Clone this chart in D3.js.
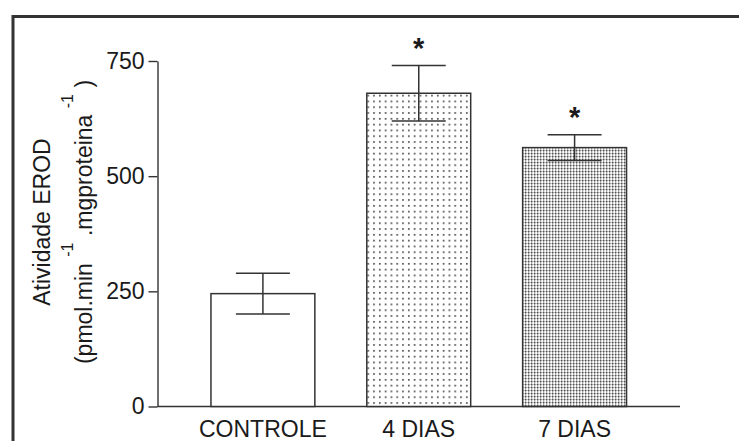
<!DOCTYPE html>
<html>
<head>
<meta charset="utf-8">
<script src="https://cdn.jsdelivr.net/npm/d3@7"></script>
<style>
  html, body { margin: 0; padding: 0; background: #fff; }
  svg { display: block; }
  text { font-family: "Liberation Sans", Arial, sans-serif; fill: #1a1a1a; }
</style>
</head>
<body>
<svg id="chart" width="739" height="441"></svg>
<script>
// EROD activity per group (mean ± SEM)
const categories = ["CONTROLE", "4 DIAS", "7 DIAS"];
const means = [245, 680, 562];
const sems = [44, 60, 28];
const significant = [false, true, true];
const fills = ["white", "url(#dotsSparse)", "url(#dotsDense)"];
const yTicks = [0, 250, 500, 750];

const svg = d3.select("#chart");
const ink = "#333";

// hatch patterns for the treated groups
const defs = svg.append("defs");
const sparse = defs.append("pattern")
  .attr("id", "dotsSparse").attr("patternUnits", "userSpaceOnUse")
  .attr("width", 5.8).attr("height", 5.8);
sparse.append("rect").attr("width", 5.8).attr("height", 5.8).attr("fill", "#fff");
sparse.append("rect").attr("x", 2).attr("y", 2).attr("width", 1.6).attr("height", 1.6).attr("fill", "#3a3a3a");

const dense = defs.append("pattern")
  .attr("id", "dotsDense").attr("patternUnits", "userSpaceOnUse")
  .attr("width", 3).attr("height", 3);
dense.append("rect").attr("width", 3).attr("height", 3).attr("fill", "#fff");
dense.append("rect").attr("x", 0).attr("y", 0).attr("width", 1.3).attr("height", 3).attr("fill", "#b0b0b0");
dense.append("rect").attr("x", 0).attr("y", 0).attr("width", 3).attr("height", 1).attr("fill", "#c4c4c4");
dense.append("rect").attr("x", 0).attr("y", 0).attr("width", 1.3).attr("height", 1.2).attr("fill", "#505050");

// outer frame (open on right and bottom)
svg.append("path")
  .attr("d", "M13,441 V16.5 H739")
  .attr("fill", "none").attr("stroke", ink).attr("stroke-width", 3);

const y = d3.scaleLinear().domain([0, 750]).range([406.5, 61]);
const x = d3.scaleBand().domain(categories).range([157.5, 680])
  .paddingInner(1 / 3).paddingOuter(0.343);

// y axis
const yAxis = svg.append("g")
  .attr("transform", "translate(157.5,0)")
  .call(d3.axisLeft(y).tickValues(yTicks).tickSize(9).tickPadding(4).tickSizeOuter(0));
yAxis.select(".domain").attr("stroke", ink).attr("stroke-width", 1.4);
yAxis.selectAll(".tick line").attr("stroke", ink).attr("stroke-width", 1.4);
yAxis.selectAll(".tick text")
  .attr("font-size", 23).attr("fill", "#1a1a1a")
  .style("font-family", "'Liberation Sans', Arial, sans-serif");

// x axis baseline and category labels
svg.append("line")
  .attr("x1", 157.5).attr("x2", 680)
  .attr("y1", y(0)).attr("y2", y(0))
  .attr("stroke", ink).attr("stroke-width", 1.4);

svg.append("g").selectAll("text")
  .data(categories).join("text")
  .attr("x", d => x(d) + x.bandwidth() / 2)
  .attr("y", 437)
  .attr("text-anchor", "middle")
  .attr("font-size", 23)
  .text(d => d);

// bars
svg.append("g").selectAll("rect")
  .data(categories).join("rect")
  .attr("x", d => x(d))
  .attr("y", (d, i) => y(means[i]))
  .attr("width", x.bandwidth())
  .attr("height", (d, i) => y(0) - y(means[i]))
  .attr("fill", (d, i) => fills[i])
  .attr("stroke", ink).attr("stroke-width", 1.5);

// error bars
const capHalf = 27;
const eb = svg.append("g").attr("stroke", ink).attr("stroke-width", 1.5);
categories.forEach((c, i) => {
  const cx = x(c) + x.bandwidth() / 2;
  const hi = y(means[i] + sems[i]);
  const lo = y(means[i] - sems[i]);
  eb.append("line").attr("x1", cx).attr("x2", cx).attr("y1", hi).attr("y2", lo);
  eb.append("line").attr("x1", cx - capHalf).attr("x2", cx + capHalf).attr("y1", hi).attr("y2", hi);
  eb.append("line").attr("x1", cx - capHalf).attr("x2", cx + capHalf).attr("y1", lo).attr("y2", lo);
});

// significance marks
svg.append("g").selectAll("text")
  .data(categories.filter((c, i) => significant[i])).join("text")
  .attr("x", d => x(d) + x.bandwidth() / 2)
  .attr("y", d => { const i = categories.indexOf(d); return y(means[i] + sems[i]) - 8; })
  .attr("text-anchor", "middle")
  .attr("font-size", 29)
  .attr("font-weight", "bold")
  .text("*");

// y axis title (two lines, rotated)
const title = svg.append("g").attr("transform", "translate(0,222) rotate(-90)");
title.append("text")
  .attr("x", 0).attr("y", 50)
  .attr("text-anchor", "middle")
  .attr("font-size", 23)
  .text("Atividade EROD");
const t2 = title.append("text")
  .attr("x", 0).attr("y", 92)
  .attr("text-anchor", "middle")
  .attr("font-size", 23);
t2.append("tspan").text("(pmol.min ");
t2.append("tspan").attr("font-size", 16).attr("dy", -19).text("-1");
t2.append("tspan").attr("dy", 19).text(" .mgproteina ");
t2.append("tspan").attr("font-size", 16).attr("dy", -19).text("-1");
t2.append("tspan").attr("dy", 19).text(" )");
</script>
</body>
</html>
